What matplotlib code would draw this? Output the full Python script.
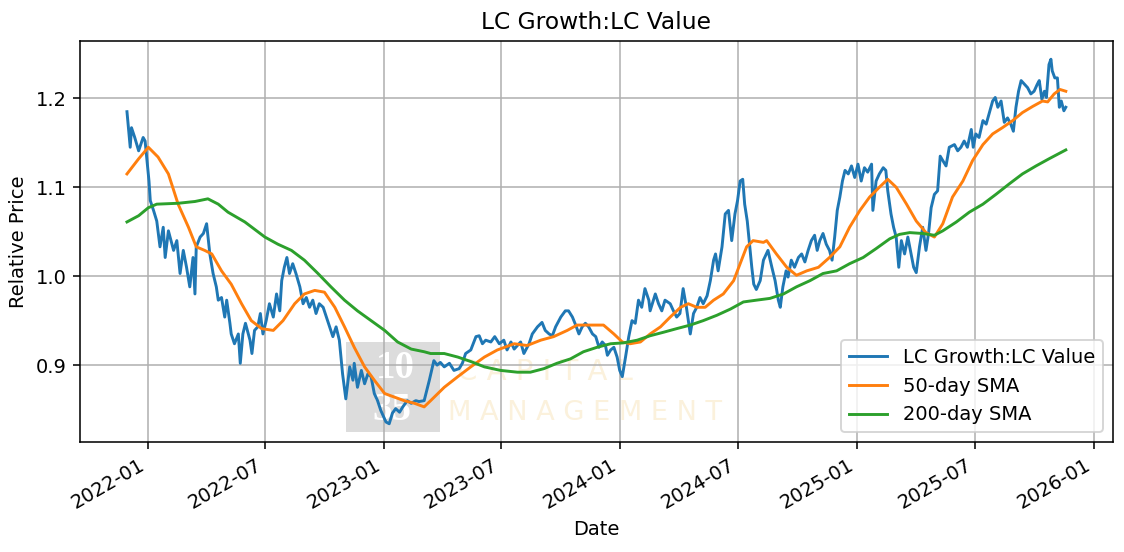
import pandas as pd
import matplotlib
matplotlib.use("Agg")
import matplotlib.pyplot as plt
import matplotlib.dates as mdates
from matplotlib.ticker import MultipleLocator
from matplotlib.patches import Rectangle

# days counted from 2022-01-01, value = relative price
base_date = pd.Timestamp("2022-01-01")

ratio_pts = [
    (-32, 1.185), (-27, 1.145), (-25, 1.167), (-20, 1.156), (-14, 1.141), (-7, 1.156), (-4, 1.152), (-2, 1.137),
    (2, 1.107), (4, 1.085), (9, 1.074), (14, 1.062), (19, 1.033), (24, 1.055), (27, 1.021), (32, 1.051),
    (40, 1.029), (45, 1.040), (50, 1.003), (55, 1.029), (60, 1.010), (65, 0.988), (70, 1.021), (73, 0.980),
    (75, 1.033), (81, 1.044), (86, 1.048), (91, 1.059), (96, 1.025), (101, 1.003), (106, 0.988), (109, 0.973),
    (114, 0.976), (119, 0.954), (122, 0.973), (127, 0.947), (129, 0.935), (134, 0.924), (140, 0.935), (143, 0.902),
    (147, 0.935), (151, 0.947), (158, 0.928), (161, 0.913), (165, 0.939), (170, 0.943), (174, 0.958), (178, 0.935),
    (183, 0.950), (188, 0.969), (194, 0.954), (199, 0.980), (204, 0.961), (207, 0.995), (211, 1.010), (215, 1.021),
    (219, 1.003), (224, 1.014), (229, 1.003), (235, 0.988), (240, 0.969), (245, 0.976), (250, 0.965), (255, 0.973),
    (260, 0.958), (265, 0.969), (271, 0.965), (276, 0.954), (281, 0.943), (286, 0.932), (291, 0.943), (296, 0.928),
    (301, 0.890), (306, 0.862), (312, 0.898), (317, 0.883), (319, 0.902), (324, 0.875), (330, 0.894), (335, 0.879),
    (340, 0.890), (345, 0.887), (350, 0.868), (355, 0.860), (360, 0.849), (368, 0.836), (373, 0.834), (378, 0.846),
    (383, 0.851), (389, 0.847), (394, 0.853), (401, 0.860), (407, 0.857), (414, 0.860), (419, 0.859),
    (427, 0.860), (435, 0.883), (442, 0.905), (447, 0.900), (452, 0.903), (458, 0.898), (466, 0.902), (473, 0.894),
    (481, 0.896), (486, 0.902), (491, 0.913), (499, 0.917), (507, 0.932), (512, 0.933), (517, 0.924), (522, 0.928),
    (530, 0.926), (536, 0.932), (543, 0.924), (550, 0.928), (555, 0.917), (561, 0.926), (566, 0.918), (571, 0.922),
    (576, 0.926), (581, 0.913), (589, 0.924), (594, 0.935), (602, 0.943), (609, 0.948), (614, 0.939), (620, 0.935),
    (625, 0.933), (630, 0.943), (638, 0.954), (645, 0.961), (650, 0.961), (656, 0.954), (661, 0.945), (666, 0.935),
    (671, 0.943), (676, 0.947), (681, 0.943), (687, 0.935), (692, 0.932), (697, 0.920), (702, 0.926), (707, 0.922),
    (710, 0.911), (715, 0.917), (720, 0.920), (725, 0.909), (729, 0.894), (733, 0.887), (738, 0.909), (743, 0.932),
    (748, 0.950), (753, 0.947), (758, 0.973), (763, 0.965), (768, 0.986), (774, 0.973), (776, 0.961), (784, 0.980),
    (789, 0.969), (794, 0.961), (799, 0.973), (807, 0.969), (812, 0.961), (817, 0.954), (822, 0.958), (827, 0.986),
    (832, 0.965), (838, 0.935), (843, 0.958), (848, 0.965), (853, 0.976), (858, 0.969), (864, 0.978), (869, 0.995),
    (874, 1.018), (877, 1.025), (881, 1.006), (887, 1.033), (892, 1.070), (897, 1.074), (902, 1.040), (907, 1.070),
    (911, 1.085), (915, 1.107), (919, 1.109), (922, 1.081), (926, 1.062), (929, 1.040), (933, 1.010), (936, 0.991),
    (940, 0.985), (946, 0.995), (951, 1.018), (958, 1.029), (964, 1.010), (969, 0.995), (974, 0.973), (977, 0.965),
    (981, 0.988), (986, 1.006), (989, 0.999), (994, 1.018), (999, 1.010), (1005, 1.021), (1010, 1.025), (1015, 1.016),
    (1020, 1.029), (1025, 1.040), (1030, 1.046), (1034, 1.029), (1038, 1.040), (1043, 1.048), (1048, 1.036), (1053, 1.029),
    (1057, 1.018), (1061, 1.044), (1065, 1.074), (1069, 1.089), (1073, 1.107), (1077, 1.119), (1082, 1.115), (1087, 1.124),
    (1092, 1.111), (1097, 1.126), (1102, 1.107), (1107, 1.122), (1112, 1.117), (1118, 1.126), (1120, 1.074), (1125, 1.107),
    (1130, 1.115), (1136, 1.122), (1140, 1.119), (1143, 1.096), (1148, 1.070), (1152, 1.055), (1156, 1.044), (1160, 1.010),
    (1164, 1.040), (1169, 1.025), (1174, 1.044), (1178, 1.029), (1183, 1.010), (1187, 1.004), (1192, 1.033), (1197, 1.055),
    (1202, 1.029), (1206, 1.048), (1210, 1.077), (1215, 1.092), (1220, 1.096), (1224, 1.135), (1228, 1.130), (1233, 1.124),
    (1238, 1.145), (1246, 1.148), (1251, 1.141), (1256, 1.145), (1261, 1.152), (1266, 1.145), (1272, 1.165), (1275, 1.145),
    (1279, 1.160), (1284, 1.156), (1290, 1.175), (1295, 1.171), (1300, 1.184), (1305, 1.197), (1309, 1.201), (1313, 1.190),
    (1318, 1.197), (1323, 1.173), (1328, 1.178), (1333, 1.171), (1337, 1.163), (1341, 1.190), (1345, 1.208), (1349, 1.220),
    (1354, 1.216), (1359, 1.212), (1364, 1.205), (1369, 1.208), (1374, 1.216), (1377, 1.220), (1381, 1.199), (1385, 1.208),
    (1388, 1.201), (1392, 1.238), (1395, 1.244), (1397, 1.231), (1401, 1.223), (1405, 1.223), (1408, 1.190), (1411, 1.197),
    (1415, 1.186), (1418, 1.190),
]

sma50_pts = [
    (-32, 1.115), (-14, 1.132), (1, 1.145), (16, 1.134), (32, 1.115), (47, 1.081), (63, 1.055), (75, 1.033),
    (88, 1.029), (99, 1.025), (114, 1.006), (129, 0.991), (145, 0.969), (160, 0.950), (176, 0.941), (194, 0.939),
    (209, 0.950), (227, 0.969), (242, 0.980), (258, 0.984), (273, 0.982), (289, 0.965), (304, 0.943), (319, 0.920),
    (335, 0.898), (350, 0.883), (366, 0.868), (381, 0.864), (396, 0.860), (412, 0.857), (427, 0.853), (437, 0.860),
    (458, 0.875), (479, 0.887), (499, 0.898), (520, 0.909), (540, 0.917), (566, 0.924), (586, 0.922), (607, 0.928),
    (627, 0.932), (648, 0.939), (663, 0.945), (684, 0.945), (704, 0.945), (720, 0.935), (733, 0.926), (745, 0.924),
    (761, 0.926), (776, 0.935), (792, 0.943), (807, 0.954), (823, 0.965), (835, 0.969), (848, 0.965), (861, 0.965),
    (874, 0.973), (889, 0.980), (905, 0.995), (915, 1.014), (925, 1.033), (935, 1.040), (951, 1.038), (956, 1.040),
    (971, 1.025), (987, 1.010), (1002, 1.001), (1018, 1.006), (1036, 1.010), (1053, 1.021), (1069, 1.033), (1084, 1.055),
    (1100, 1.074), (1115, 1.089), (1130, 1.100), (1143, 1.109), (1156, 1.100), (1172, 1.081), (1187, 1.062), (1202, 1.049),
    (1215, 1.044), (1228, 1.059), (1243, 1.089), (1259, 1.107), (1274, 1.130), (1290, 1.148), (1305, 1.160), (1320, 1.167),
    (1336, 1.175), (1351, 1.184), (1367, 1.191), (1382, 1.197), (1390, 1.196), (1400, 1.205), (1409, 1.210), (1418, 1.208),
]

sma200_pts = [
    (-32, 1.061), (-14, 1.068), (1, 1.077), (14, 1.081), (47, 1.082), (73, 1.084), (93, 1.087), (109, 1.081),
    (124, 1.072), (150, 1.061), (181, 1.044), (201, 1.036), (222, 1.029), (242, 1.018), (263, 1.003), (283, 0.988),
    (304, 0.973), (324, 0.961), (345, 0.950), (366, 0.939), (386, 0.926), (407, 0.918), (427, 0.915), (437, 0.913),
    (458, 0.913), (479, 0.909), (499, 0.904), (520, 0.898), (545, 0.894), (571, 0.892), (591, 0.892), (612, 0.896),
    (632, 0.902), (653, 0.907), (673, 0.915), (694, 0.920), (715, 0.924), (735, 0.925), (756, 0.928), (776, 0.933),
    (797, 0.937), (817, 0.941), (838, 0.945), (858, 0.950), (879, 0.956), (900, 0.963), (920, 0.971), (940, 0.973),
    (961, 0.975), (982, 0.980), (1002, 0.988), (1023, 0.995), (1043, 1.003), (1064, 1.006), (1084, 1.014), (1105, 1.021),
    (1125, 1.031), (1146, 1.042), (1161, 1.047), (1177, 1.049), (1197, 1.048), (1215, 1.046), (1228, 1.051), (1249, 1.061),
    (1269, 1.072), (1290, 1.081), (1310, 1.092), (1331, 1.104), (1351, 1.115), (1372, 1.124), (1392, 1.132), (1418, 1.142),
]


def to_series(pts):
    days, vals = zip(*pts)
    dates = base_date + pd.to_timedelta(list(days), unit="D")
    return dates, list(vals)


fig, ax = plt.subplots(figsize=(1124 / 140, 552 / 140), dpi=140)

d, v = to_series(ratio_pts)
ax.plot(d, v, color="#1f77b4", lw=1.5, label="LC Growth:LC Value")
d, v = to_series(sma50_pts)
ax.plot(d, v, color="#ff7f0e", lw=1.5, label="50-day SMA")
d, v = to_series(sma200_pts)
ax.plot(d, v, color="#2ca02c", lw=1.5, label="200-day SMA")

ax.set_title("LC Growth:LC Value")
ax.set_xlabel("Date")
ax.set_ylabel("Relative Price")
ax.grid(True)
ax.yaxis.set_major_locator(MultipleLocator(0.1))
ax.xaxis.set_major_locator(mdates.MonthLocator(bymonth=[1, 7]))
ax.xaxis.set_major_formatter(mdates.DateFormatter("%Y-%m"))
ax.legend(loc="lower right")
fig.autofmt_xdate()
fig.subplots_adjust(left=0.0712, right=0.990, top=0.9257, bottom=0.1993)

# faint watermark, sitting under the grid and the lines
ft = fig.transFigure
ax.add_patch(Rectangle((347 / 1124, 1 - 431 / 552), 92 / 1124, 88 / 552, transform=ft,
                       color="#dcdcdc", zorder=0.3, clip_on=False))
wm = dict(transform=ft, ha="center", va="center", zorder=0.4, clip_on=False)
ax.text(395 / 1124, 1 - 368 / 552, "10", color="white", fontsize=20, fontweight="bold",
        family="Liberation Serif", **wm)
ax.text(392 / 1124, 1 - 410 / 552, "35", color="white", fontsize=20, fontweight="bold",
        family="Liberation Serif", **wm)
ax.text(545 / 1124, 1 - 372 / 552, "C A P I T A L", color="#fbf1dc", fontsize=15, **wm)
ax.text(585 / 1124, 1 - 413 / 552, "M A N A G E M E N T", color="#fbf1dc", fontsize=14, **wm)

fig.savefig("out.png", dpi=140)
